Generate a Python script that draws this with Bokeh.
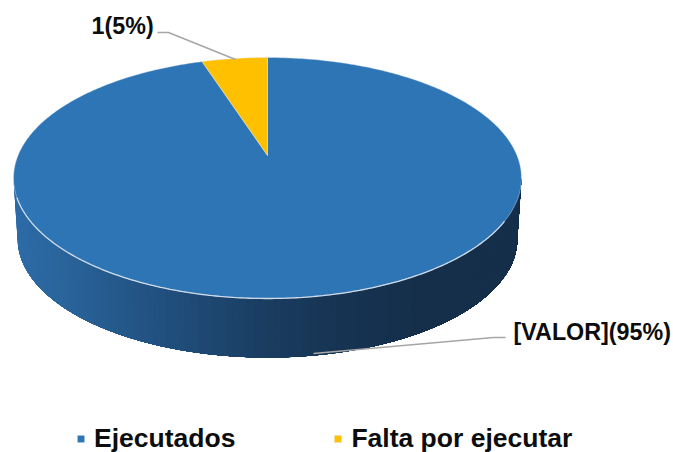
import numpy as np
from bokeh.plotting import figure
from bokeh.models import Legend, LegendItem, Range1d
from bokeh.embed import file_html
from bokeh.resources import INLINE

# Data
categories = ["Ejecutados", "Falta por ejecutar"]
values = [19, 1]
labels = ["[VALOR](95%)", "1(5%)"]
colors = ["#2E75B6", "#FFC000"]

W, H = 673, 452
p = figure(width=W, height=H, output_backend="svg", toolbar_location=None,
           x_range=Range1d(0, 673), y_range=Range1d(452, 0),
           min_border=0, outline_line_color=None, background_fill_color="white",
           border_fill_color="white")
p.axis.visible = False
p.grid.visible = False

# Perspective projection of the unit-circle pie
CX, K, PERSP = 267.0, 249.5, 0.1867
CY_NEAR, A = 155.0, -87.36

def top(theta):
    u, v = np.sin(theta), np.cos(theta)
    w = 1 + PERSP * v
    return CX + K * u / w, (A * v + CY_NEAR) / w

S, DY = 0.984, 238.4 - 177.5 * 0.984

def bottom(theta):
    x, y = top(theta)
    return CX + (x - CX) * S, y * S + DY

# Pie shares → angles, clockwise from 12 o'clock
fractions = np.array(values, dtype=float) / sum(values)
ends = np.cumsum(fractions) * 2 * np.pi
starts = np.concatenate([[0], ends[:-1]])

# Side wall of the first slice: painted in layers so that no seams show
t0 = np.arccos(-PERSP)
t1 = 2 * np.pi - t0
edges = np.linspace(t0, t1, 121)
stop_x = [13, 60, 150, 267, 340, 420, 521]
stop_r = [0x2D, 0x2A, 0x22, 0x1A, 0x17, 0x15, 0x15]
stop_g = [0x6C, 0x65, 0x52, 0x3D, 0x34, 0x2F, 0x2F]
stop_b = [0xA8, 0x9C, 0x82, 0x60, 0x53, 0x4B, 0x4B]
xs, ys, cs = [], [], []
for a, b in zip(edges[:-1], edges[1:]):
    arc = np.linspace(t0, b, 60)
    tx, ty = top(arc)
    bx, by = bottom(arc)
    xs.append(np.r_[tx, bx[::-1]].tolist())
    ys.append(np.r_[ty, by[::-1]].tolist())
    mx = float(top(np.array([(a + b) / 2]))[0][0])
    cs.append("#%02x%02x%02x" % (int(np.interp(mx, stop_x, stop_r)),
                                 int(np.interp(mx, stop_x, stop_g)),
                                 int(np.interp(mx, stop_x, stop_b))))
p.patches(xs[::-1], ys[::-1], fill_color=cs[::-1], line_color=None)

# Top faces
renderers = []
for s, e, c in zip(starts, ends, colors):
    th = np.linspace(s, e, max(8, int((e - s) * 80)))
    x, y = top(th)
    r = p.patch(np.r_[CX, x], np.r_[CY_NEAR, y], fill_color=c,
                line_color="#dfe8f2", line_width=0.6, line_alpha=0.7)
    renderers.append(r)

# Rim highlight at the front edge
hl = np.linspace(t0 + 0.35, t1 - 0.16, 200)
hx, hy = top(hl)
p.line(hx, hy, line_color="#cfdbe8", line_width=1.3)

# Leader lines
p.line([505, 493, 313], [337, 337, 353], line_color="#a6a6a6", line_width=1.5)
p.line([157, 168, 235], [32, 32, 59], line_color="#a6a6a6", line_width=1.5)

# Data labels
p.text([513], [331], text=[labels[0]], text_font_size="23.3px", text_font_style="bold",
       text_color="#0d0d0d", text_align="left", text_baseline="middle",
       text_font={"value": "Liberation Sans"})
p.text([91], [25], text=[labels[1]], text_font_size="23.3px", text_font_style="bold",
       text_color="#0d0d0d", text_align="left", text_baseline="middle",
       text_font={"value": "Liberation Sans"})

legend = Legend(
    items=[LegendItem(label=c, renderers=[r]) for c, r in zip(categories, renderers)],
    orientation="horizontal", location=(76, -2), border_line_color=None,
    background_fill_alpha=0, label_text_font="Liberation Sans",
    label_text_font_style="bold", label_text_font_size="26.5px",
    label_text_color="#0d0d0d", glyph_width=9, glyph_height=9, spacing=98,
    label_standoff=9, margin=0, padding=0,
)
p.add_layout(legend, "center")

open("out.html", "w").write(file_html(p, INLINE))
